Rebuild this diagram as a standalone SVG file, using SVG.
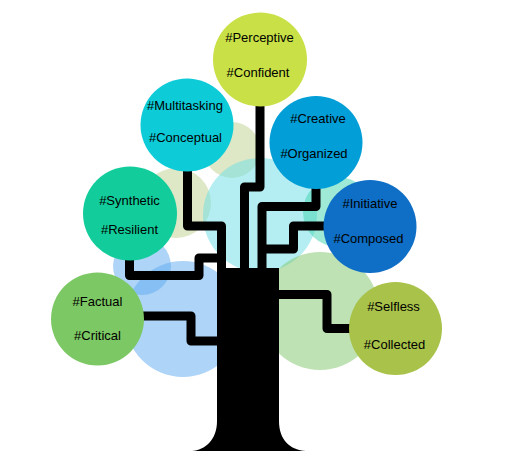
<svg xmlns="http://www.w3.org/2000/svg" width="526" height="451" viewBox="0 0 526 451">
<style>
.bg{opacity:0.5}
.node text{font-family:"Liberation Sans",Arial,sans-serif;font-size:13px;fill:#000;text-anchor:middle}
.conn path{fill:none;stroke:#000;stroke-width:9;stroke-linejoin:round;stroke-linecap:butt}
</style>
<rect width="526" height="451" fill="#fff"/>
<g id="background">
<circle class="bg" cx="232" cy="150" r="28" fill="#BDD18E"/>
<circle class="bg" cx="176" cy="203" r="35" fill="#BDD18E"/>
<circle class="bg" cx="260" cy="215" r="57" fill="#6ADDE6"/>
<circle class="bg" cx="338" cy="212" r="35" fill="#3FD3B0"/>
<circle class="bg" cx="183" cy="319" r="58" fill="#5DA9F0"/>
<circle class="bg" cx="142" cy="266" r="29" fill="#5DA9F0"/>
<circle class="bg" cx="320" cy="311" r="59" fill="#7DC66A"/>
</g>
<g id="trunk">
<path d="M217,268 H279 V421 C279,440 290,450 306,451 V452 H192 V451 C205,450 217,440 217,421 Z" fill="#000"/>
</g>
<g id="connectors" class="conn">
<path d="M260,100 V187 H244.5 V270"/>
<path d="M187.5,165 V226 H221.5 V270"/>
<path d="M316,182 V206.5 H262 V270"/>
<path d="M330,226 H293.5 V249 H262"/>
<path d="M129.5,250 V275.5 H199 V258 H221.5"/>
<path d="M135,316 H191 V341 H219"/>
<path d="M277,294.5 H327 V328.5 H356"/>
</g>
<g id="node-perceptive" class="node">
<circle cx="260" cy="59.5" r="47" fill="#C9E046"/>
<text x="259.5" y="42">#Perceptive</text>
<text x="258" y="77">#Confident</text>
</g>
<g id="node-multitasking" class="node">
<circle cx="187" cy="125" r="46.5" fill="#0ECBD8"/>
<text x="185" y="110">#Multitasking</text>
<text x="185.5" y="142">#Conceptual</text>
</g>
<g id="node-creative" class="node">
<circle cx="316" cy="142.5" r="46.5" fill="#029ED8"/>
<text x="318" y="123">#Creative</text>
<text x="314" y="158">#Organized</text>
</g>
<g id="node-synthetic" class="node">
<circle cx="130" cy="213.5" r="47" fill="#12CD9B"/>
<text x="129.5" y="205">#Synthetic</text>
<text x="129.5" y="234">#Resilient</text>
</g>
<g id="node-initiative" class="node">
<circle cx="370" cy="226.5" r="46.5" fill="#0F6EC5"/>
<text x="370" y="208">#Initiative</text>
<text x="368.5" y="243">#Composed</text>
</g>
<g id="node-factual" class="node">
<circle cx="97.5" cy="319" r="46.5" fill="#7CC864"/>
<text x="97.5" y="306">#Factual</text>
<text x="97.5" y="340">#Critical</text>
</g>
<g id="node-selfless" class="node">
<circle cx="395.5" cy="328.5" r="46.5" fill="#A8C24A"/>
<text x="393.5" y="311">#Selfless</text>
<text x="394.5" y="349">#Collected</text>
</g>
</svg>
